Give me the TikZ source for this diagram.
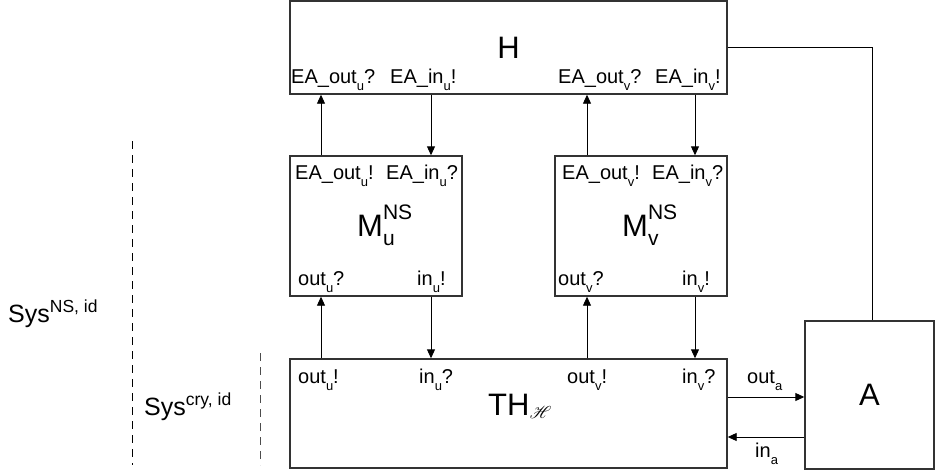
\documentclass[tikz,border=0pt]{standalone}
\usepackage{fontspec}
\setmainfont{Liberation Sans}
\usepackage{mathrsfs}
\usetikzlibrary{arrows.meta}

% lowered and raised indices, as the drawing sets them
\newcommand{\lo}[1]{\raisebox{-7pt}{\fontsize{13}{15}\selectfont #1}}
\newcommand{\biglo}[1]{\raisebox{-9pt}{\fontsize{21}{24}\selectfont #1}}
\newcommand{\bighi}[1]{\raisebox{17pt}{\fontsize{21}{24}\selectfont #1}}

\tikzset{
  box/.style={draw=black!80, line width=1.4pt, inner sep=0pt},
  conn/.style={line width=0.9pt, -{Triangle[length=9pt,width=8pt]}},
  port/.style={anchor=base west, inner sep=0pt, font=\fontsize{20}{24}\selectfont},
  title/.style={font=\fontsize{31}{36}\selectfont},
  sysname/.style={anchor=base west, inner sep=0pt, font=\fontsize{25}{30}\selectfont},
  bound/.style={dash pattern=on 8pt off 6pt, line width=1pt},
}

\begin{document}
\begin{tikzpicture}[x=1pt,y=-1pt]
    \useasboundingbox (0,0) rectangle (935,471);

    % boxes
    \node[box, title, minimum width=437pt, minimum height=93pt] (H) at (508.5,47.5) {H};
    \node[box, minimum width=172pt, minimum height=140pt] (Mu) at (376,226) {};
    \node[box, minimum width=172pt, minimum height=140pt] (Mv) at (641,226) {};
    \node[box, minimum width=437pt, minimum height=109pt] (TH) at (508.5,413.5) {};
    \node[box, title, minimum width=129pt, minimum height=148pt] (A) at (869.5,395) {A};

    % names inside the boxes
    \node[title, anchor=base west, inner sep=0pt] (Muname) at (357,236) {M\rlap{\biglo{u}}\bighi{NS}};
    \node[title, anchor=base west, inner sep=0pt] (Mvname) at (622,236) {M\rlap{\biglo{v}}\bighi{NS}};
    \node[title, anchor=base west, inner sep=0pt] (THname) at (488,415) {TH\raisebox{-3pt}{\fontsize{19}{22}\selectfont$\mathscr{H}$}};

    % ports of H
    \node[port] (Hou) at (291,83) {EA\_out\lo{u}?};
    \node[port] (Hiu) at (390,83) {EA\_in\lo{u}!};
    \node[port] (Hov) at (558,83) {EA\_out\lo{v}?};
    \node[port] (Hiv) at (655,83) {EA\_in\lo{v}!};

    % ports of the two machines
    \node[port] (Mou) at (295,179) {EA\_out\lo{u}!};
    \node[port] (Miu) at (386,179) {EA\_in\lo{u}?};
    \node[port] (Mov) at (562,179) {EA\_out\lo{v}!};
    \node[port] (Miv) at (652,179) {EA\_in\lo{v}?};
    \node[port] (Mlu) at (298,285) {out\lo{u}?};
    \node[port] (Mru) at (417,285) {in\lo{u}!};
    \node[port] (Mlv) at (558,285) {out\lo{v}?};
    \node[port] (Mrv) at (682,285) {in\lo{v}!};

    % ports of TH
    \node[port] (Tou) at (298,383) {out\lo{u}!};
    \node[port] (Tiu) at (419,383) {in\lo{u}?};
    \node[port] (Tov) at (567,383) {out\lo{v}!};
    \node[port] (Tiv) at (682,383) {in\lo{v}?};

    % channel columns and rows
    \coordinate (xu1) at (321,0);
    \coordinate (xu2) at (431,0);
    \coordinate (xv1) at (587,0);
    \coordinate (xv2) at (695,0);
    \coordinate (xa) at (872,0);
    \coordinate (ya1) at (0,397);
    \coordinate (ya2) at (0,437);

    \draw[conn] (xu1 |- Mu.north) -- (xu1 |- H.south);
    \draw[conn] (xu2 |- H.south) -- (xu2 |- Mu.north);
    \draw[conn] (xv1 |- Mv.north) -- (xv1 |- H.south);
    \draw[conn] (xv2 |- H.south) -- (xv2 |- Mv.north);
    \draw[conn] (xu1 |- TH.north) -- (xu1 |- Mu.south);
    \draw[conn] (xu2 |- Mu.south) -- (xu2 |- TH.north);
    \draw[conn] (xv1 |- TH.north) -- (xv1 |- Mv.south);
    \draw[conn] (xv2 |- Mv.south) -- (xv2 |- TH.north);

    \draw[conn] (TH.east |- ya1) -- (A.west |- ya1);
    \draw[conn] (A.west |- ya2) -- (TH.east |- ya2);
    \node[port] (outa) at (747,383) {out\lo{a}};
    \node[port] (ina) at (755,457) {in\lo{a}};

    \draw[line width=0.9pt] (H.east) -| (xa |- A.north);

    % system boundaries
    \coordinate (ns1) at (132,141);
    \coordinate (ns2) at (132,465);
    \coordinate (cr1) at (260,353);
    \coordinate (cr2) at (260,465);
    \draw[bound] (ns1) -- (ns2);
    \draw[bound, black!70] (cr1) -- (cr2);
    \node[sysname] (sysns) at (8,322) {Sys\textsuperscript{NS, id}};
    \node[sysname] (syscry) at (144,415) {Sys\textsuperscript{cry, id}};
\end{tikzpicture}
\end{document}
